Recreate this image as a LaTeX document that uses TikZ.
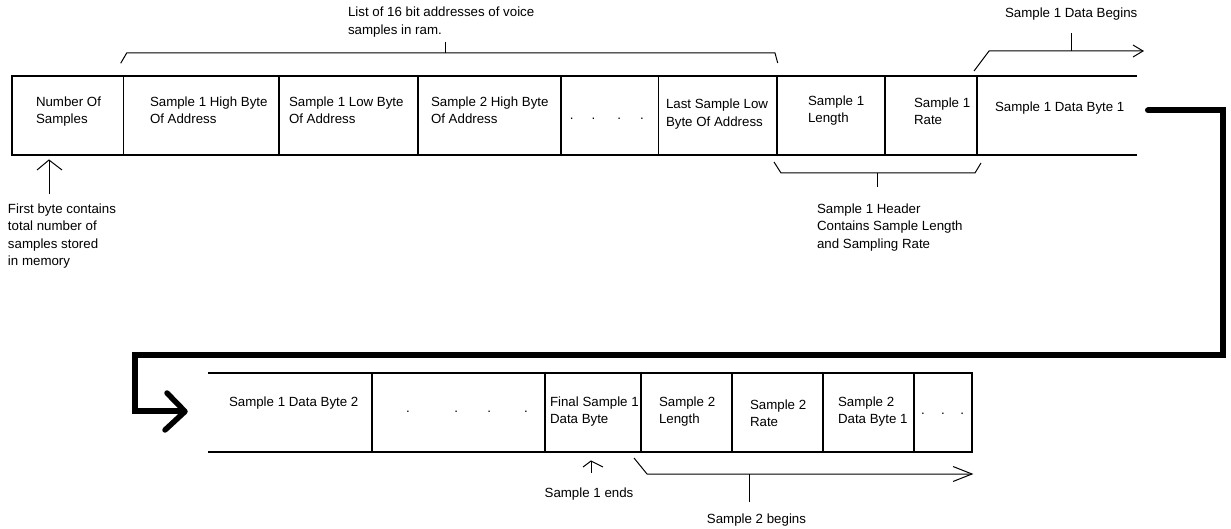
\documentclass[tikz,border=0pt]{standalone}
\usepackage{fontspec}
\setmainfont{Liberation Sans}
\newcommand\cellfont{\fontsize{13.3}{17.6}\selectfont}
\begin{document}
\begin{tikzpicture}[x=1pt,y=-1pt,
  cellline/.style={line width=1.1pt},
  note/.style={line width=1pt},
  txt/.style={anchor=north west, inner sep=0pt, outer sep=0pt, align=left, font=\cellfont},
  ctxt/.style={anchor=base, inner sep=0pt, outer sep=0pt, font=\cellfont},
  flow/.style={line width=6pt, line cap=round, line join=miter},
  barb/.style={line width=5.5pt, line cap=round, line join=round}]
\useasboundingbox (0,0) rectangle (1231,529);

% ---- first memory row (open on the right)
\draw[cellline] (1137,76) -- (12,76) -- (12,155) -- (1137,155);
\foreach \x in {123.5,279,418,561,658.5,777,885,977}
  \draw[cellline] (\x,76) -- (\x,155);

\node[txt] (numsamp) at (36,96.5)  {Number Of\\Samples};
\node[txt] (s1hi)    at (150,96.5) {Sample 1 High Byte\\Of Address};
\node[txt] (s1lo)    at (289,96.5) {Sample 1 Low Byte\\Of Address};
\node[txt] (s2hi)    at (431,96.5) {Sample 2 High Byte\\Of Address};
\node[txt, anchor=base west] (dotsA) at (569.9,120)
  {.\hspace{18pt}.\hspace{22.1pt}.\hspace{19.1pt}.};
\node[txt] (lastlo)  at (666,99)   {Last Sample Low\\Byte Of Address};
\node[txt] (s1len)   at (808,95.5) {Sample 1\\Length};
\node[txt] (s1rate)  at (914,97.5) {Sample 1\\Rate};
\node[txt] (s1d1)    at (995,101.5) {Sample 1 Data Byte 1};

% ---- second memory row (open on the left)
\draw[cellline] (208,373) -- (972,373) -- (972,452) -- (208,452);
\foreach \x in {372,545,641,732,823,914}
  \draw[cellline] (\x,373) -- (\x,452);

\node[txt] (s1d2)   at (229,396.5) {Sample 1 Data Byte 2};
\node[txt, anchor=base west] (dotsB) at (406.2,412)
  {.\hspace{44.4pt}.\hspace{29.4pt}.\hspace{33.1pt}.};
\node[txt] (finals1) at (550,396.5) {Final Sample 1\\Data Byte};
\node[txt] (s2len)   at (659,396.5) {Sample 2\\Length};
\node[txt] (s2rate)  at (750,399.5) {Sample 2\\Rate};
\node[txt] (s2d1)    at (838,396.5) {Sample 2\\Data Byte 1};
\node[txt, anchor=base west] (dotsC) at (921.2,414)
  {.\hspace{16.1pt}.\hspace{15.7pt}.};

% ---- annotations
\node[txt] (listlbl)  at (348,7)    {List of 16 bit addresses of voice\\samples in ram.};
\node[txt] (beginlbl) at (1005,7.8) {Sample 1 Data Begins};
\node[txt] (firstlbl) at (8,203.5)  {First byte contains\\total number of\\samples stored\\in memory};
\node[txt] (hdrlbl)   at (817,203.5) {Sample 1 Header\\Contains Sample Length\\and Sampling Rate};
\node[ctxt] (endlbl)   at (589,497)  {Sample 1 ends};
\node[ctxt] (begin2lbl) at (756.5,523) {Sample 2 begins};

% address list bracket
\coordinate (listtick) at (445,42);
\draw[note] (120.7,63.3) -- (126.7,53) -- (775,53) -- (777.7,63);
\draw[note] (listtick) -- (445,53);

% header bracket
\coordinate (hdrtick) at (877,187);
\draw[note] (774,162) -- (781,173) -- (975,173) -- (981,163);
\draw[note] (877,173) -- (hdrtick);

% sample 1 data begins
\coordinate (d1tip) at (1143,51);
\draw[note] (974,71) -- (989,51) -- (d1tip);
\draw[note] (d1tip) ++(-10,-6) -- (d1tip) -- ++(-10,6);
\draw[note] (1071,33) -- (1071,51);

% sample 2 begins
\coordinate (d2tip) at (972,474);
\draw[note] (634,458) -- (647,474) -- (d2tip);
\draw[note] (d2tip) ++(-19,-7.5) -- (d2tip) -- ++(-19,7.5);
\draw[note] (749,474) -- (749,502);

% pointer to the first byte
\coordinate (nstip) at (49,160);
\draw[note] (49,194) -- (nstip);
\draw[note] (nstip) ++(-12,10) -- (nstip) -- ++(13,10);

% pointer to the last byte of sample 1
\coordinate (endtip) at (591,461);
\draw[note] (591,473) -- (endtip);
\draw[note] (endtip) ++(-8,6) -- (endtip) -- ++(12,6);

% ---- heavy wrap-around connector between the rows
\coordinate (wrapstart) at (1148,110.5);
\coordinate (wrapend) at (181,411);
\draw[flow] (wrapstart) -- (1223.3,110.5) -- (1223.3,355) -- (135,355) -- (135,411) -- (wrapend);
\draw[barb] (167,393) -- (185,411.5) -- (165,430);
\end{tikzpicture}
\end{document}
